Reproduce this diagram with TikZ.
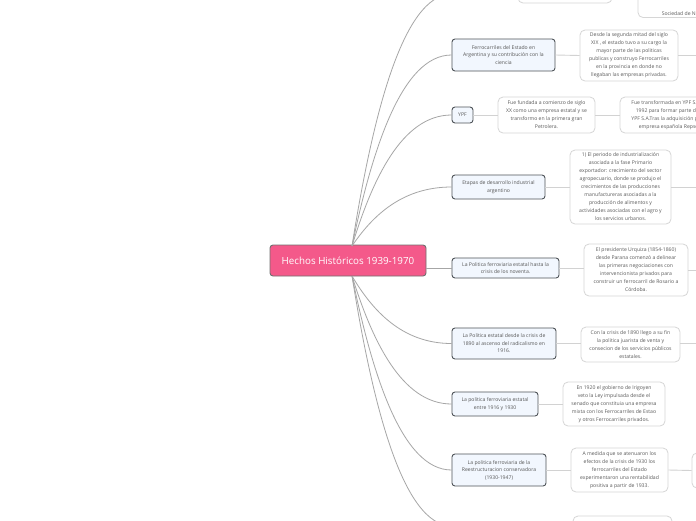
\documentclass[tikz,border=0pt]{standalone}
\usepackage{fontspec}
\setmainfont{Open Sans}
\usetikzlibrary{calc}
\definecolor{rootfill}{HTML}{F4598A}
\definecolor{rootborder}{HTML}{707070}
\definecolor{lfill}{HTML}{F2F7FE}
\definecolor{lborder}{HTML}{4E5358}
\definecolor{ltext}{HTML}{555555}
\definecolor{cborder}{HTML}{D6D6D6}
\definecolor{ctext}{HTML}{5A5A5A}
\definecolor{mainline}{HTML}{A6A6A6}
\definecolor{subline}{HTML}{D2D2D2}
\tikzset{
  rootbox/.style={draw=rootborder, fill=rootfill, rounded corners=3pt, line width=0.9pt, text=white, font=\fontsize{9.8}{11}\selectfont, inner sep=0pt},
  topic/.style={draw=lborder, fill=lfill, rounded corners=3pt, line width=0.9pt, text=ltext, font=\fontsize{5.1}{7.5}\selectfont, align=center, inner sep=1pt},
  note/.style={draw=cborder, fill=white, rounded corners=5pt, line width=0.8pt, text=ctext, font=\fontsize{5.1}{8}\selectfont, align=center, inner sep=1pt},
  mainlink/.style={draw=mainline, line width=0.8pt},
  sublink/.style={draw=subline, line width=0.9pt},
}
\begin{document}
\begin{tikzpicture}[x=1pt,y=-1pt]
\useasboundingbox (0,0) rectangle (696,520);
\fill[white] (0,0) rectangle (696,520);
\clip (0,0) rectangle (696,520);

% root
\node[rootbox, minimum width=156pt, minimum height=31pt] (root) at (348,260.5) {Hechos Históricos 1939-1970};
\coordinate (rtop) at (352,246);
\coordinate (rbot) at (352,276);

% level 1 topics
\node[topic, minimum width=103pt, minimum height=32pt] (ferro) at (503.5,55) {Ferrocarriles del Estado en\\Argentina y su contribución con la\\ciencia};
\node[topic, minimum width=21pt, minimum height=16pt] (ypf) at (462.5,115) {YPF};
\node[topic, minimum width=93pt, minimum height=24pt] (etapas) at (498.5,187) {Etapas de desarrollo  industrial\\argentino};
\node[topic, minimum width=107pt, minimum height=20pt] (polhasta) at (505.5,268) {La Politica ferroviaria estatal hasta la\\crisis de los noventa.};
\node[topic, minimum width=104pt, minimum height=31pt] (poldesde) at (504,343.5) {La Politica estatal desde la crisis  de\\1890 al ascenso del radicalismo en\\1916.};
\node[topic, minimum width=86pt, minimum height=24pt] (pol1916) at (495,404) {La politica ferroviaria estatal\\entre 1916 y 1930};
\node[topic, minimum width=94pt, minimum height=32pt] (reest) at (499,470) {La politica ferroviaria de la\\Reestructuracion conservadora\\(1930-1947)};
\coordinate (topoff) at (452,-6);
\coordinate (botoff) at (452,526);

% children
\node[note, minimum width=98pt, minimum height=51pt] (ferroC) at (629,55.5) {Desde la segunda mitad del siglo\\XIX , el estado tuvo a su cargo la\\mayor parte de las politicas\\publicas y construyo Ferrocarriles\\en la provincia en donde no\\llegaban las empresas privadas.};
\node[note, minimum width=97pt, minimum height=36pt] (ypfC1) at (546.5,115) {Fue fundada a comienzo de siglo\\XX como una empresa estatal y se\\transformo  en la primera gran\\Petrolera.};
\node[note, minimum width=100pt, minimum height=36pt] (ypfC2) at (670,115) {Fue transformada en YPF S.A. en\\1992 para formar parte de la\\YPF S.A.Tras la adquisición por la\\empresa  española Repsol.};
\node[note, minimum width=101pt, minimum height=74pt] (etapasC) at (620.5,187) {1) El periodo de industrialización\\asociada a la fase  Primario\\exportador: crecimiento del sector\\agropecuario, donde se produjo el\\crecimientos de las producciones\\manufactureras asociadas a la\\producción de alimentos  y\\actividades asociadas con el agro y\\los servicios urbanos.};
\node[note, minimum width=104pt, minimum height=52pt] (polhastaC) at (636,270) {El presidente Urquiza (1854-1860)\\desde Parana comenzó a delinear\\las primeras negociaciones con\\intervencionista privados para\\construir un ferrocarril de Rosario a\\Córdoba.};
\node[note, minimum width=99pt, minimum height=35pt] (poldesdeC) at (630.5,344.5) {Con la crisis de 1890 llego a su fin\\la politica juarista de venta y\\consecion de los servicios públicos\\estatales.};
\node[note, minimum width=102pt, minimum height=44pt] (pol1916C) at (614,404) {En 1920 el gobierno de Irigoyen\\veto la Ley impulsada desde el\\senado que constituia una empresa\\mixta con los Ferrocarriles de Estao\\y otros Ferrocarriles privados.};
\node[note, minimum width=97pt, minimum height=44pt] (reestC) at (619.5,470) {A medida que se atenuaron los\\efectos de la crisis de 1930 los\\ferrocarriles del Estado\\experimentaron una rentabilidad\\positiva a partir de 1933.};
\node[note, minimum width=100pt, minimum height=35pt] (reestC2) at (742,470.5) {};
\node[note, minimum width=99pt, minimum height=48pt] (botC) at (622.5,540) {};
\node[note, minimum width=94pt, minimum height=46pt] (topA) at (565,-20) {};
\node[note, anchor=base, text height=40pt, text depth=1pt, minimum width=101pt] (topB) at (688.5,15.5) {Sociedad de Naciones.};

% root connectors
\draw[mainlink] (rtop) .. controls +(20,-126) and +(-50,0) .. (topoff);
\draw[mainlink] (rtop) .. controls +(20,-95.5) and +(-50,0) .. (ferro.west);
\draw[mainlink] (rtop) .. controls +(20,-65.5) and +(-50,0) .. (ypf.west);
\draw[mainlink] (rtop) .. controls +(20,-29.5) and +(-50,0) .. (etapas.west);
\draw[mainlink] (polhasta.west) -- (root.east |- polhasta.west);
\draw[mainlink] (rbot) .. controls +(20,33.75) and +(-50,0) .. (poldesde.west);
\draw[mainlink] (rbot) .. controls +(20,64) and +(-50,0) .. (pol1916.west);
\draw[mainlink] (rbot) .. controls +(20,97) and +(-50,0) .. (reest.west);
\draw[mainlink] (rbot) .. controls +(20,125) and +(-50,0) .. (botoff);

% child connectors
\coordinate (ferroOut) at (720,55.5);
\coordinate (etapasOut) at (720,187);
\coordinate (polhastaOut) at (720,270);
\coordinate (poldesdeOut) at (720,343.5);
\draw[sublink] (ferro.east) -- (ferroC.west);
\draw[sublink] (ferroC.east) -- (ferroOut);
\draw[sublink] (ypf.east) -- (ypfC1.west);
\draw[sublink] (ypfC1.east) -- (ypfC2.west);
\draw[sublink] (etapas.east) -- (etapasC.west);
\draw[sublink] (etapasC.east) -- (etapasOut);
\draw[sublink] (polhasta.east) -- (polhasta.east -| polhastaC.west);
\draw[sublink] (polhastaC.east |- polhastaOut) -- (polhastaOut);
\draw[sublink] (poldesde.east) -- (poldesde.east -| poldesdeC.west);
\draw[sublink] (poldesdeC.east |- poldesdeOut) -- (poldesdeOut);
\draw[sublink] (pol1916.east) -- (pol1916C.west);
\draw[sublink] (reest.east) -- (reestC.west);
\draw[sublink] (reestC.east) -- (reestC2.west);
\end{tikzpicture}
\end{document}
